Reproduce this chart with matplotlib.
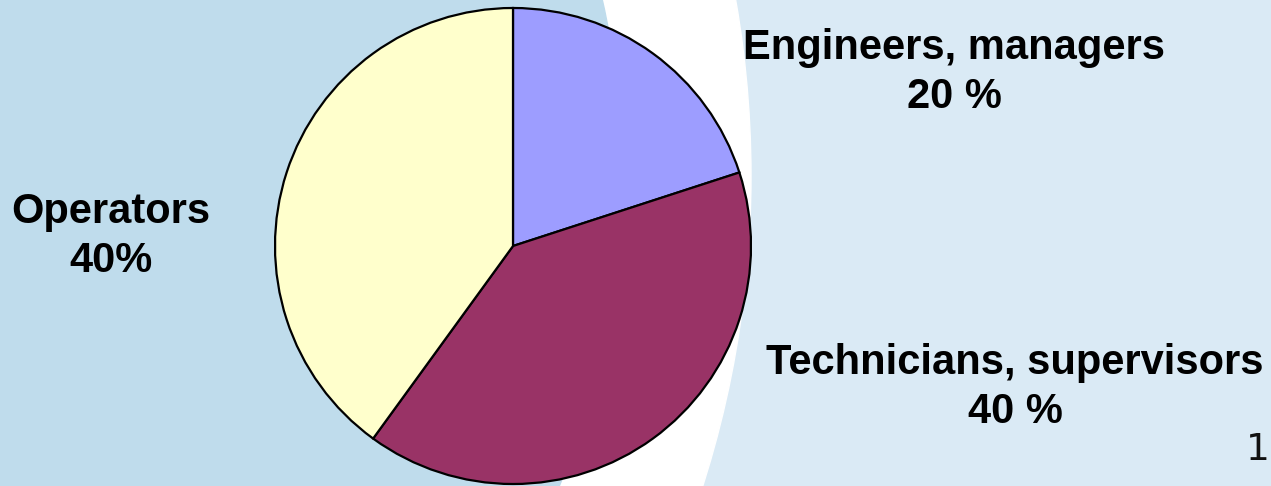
import matplotlib
matplotlib.use("Agg")
import matplotlib.pyplot as plt
from matplotlib.patches import Circle, Rectangle

labels = ["Engineers, managers\n20 %", "Technicians, supervisors\n40 %", "Operators\n40%"]
values = [20, 40, 40]
colors = ["#9D9DFF", "#993366", "#FFFFCC"]

W, H = 1271, 486
fig = plt.figure(figsize=(W / 100, H / 100), dpi=100)
ax = fig.add_axes([0, 0, 1, 1])

# background
ax.add_patch(Rectangle((0, 0), W, H, color="#DAEAF5", zorder=0))
ax.add_patch(Circle((-269, H - 176), 1020, color="white", zorder=0.5))
ax.add_patch(Circle((-176, H - 176), 798, color="#BFDCEC", zorder=0.6))

ax.pie(values, colors=colors, startangle=90, counterclock=False,
       center=(513, H - 246), radius=238,
       wedgeprops=dict(edgecolor="black", linewidth=1.6))

font = dict(family="Liberation Sans", fontweight="bold", fontsize=30,
            ha="center", va="baseline", linespacing=1.3, color="black")
ax.text(954, H - 108, labels[0], **font)
ax.text(1015, H - 423, labels[1], **font)
ax.text(111, H - 272, labels[2], **font)
ax.text(1270, H - 450, "1", family="DejaVu Sans", fontsize=27, ha="right",
        va="center", color="#111111")

ax.set_xlim(0, W)
ax.set_ylim(0, H)
ax.set_aspect("equal")
ax.axis("off")
fig.savefig("out.png", dpi=100)
